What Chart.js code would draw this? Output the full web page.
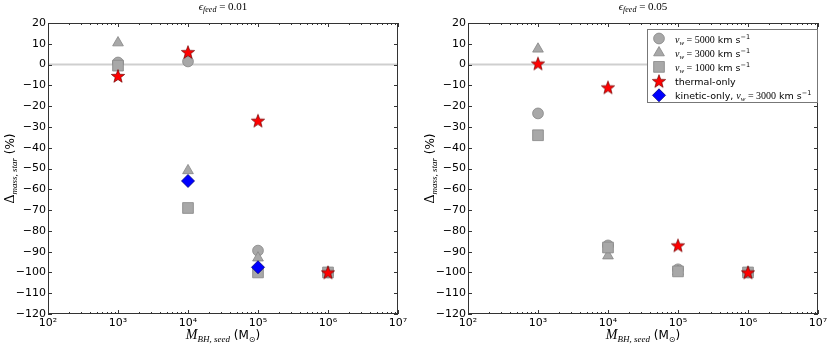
<!DOCTYPE html>
<html>
<head>
<meta charset="utf-8">
<script src="https://cdn.jsdelivr.net/npm/chart.js@4.4.1/dist/chart.umd.min.js"></script>
<style>
body { margin: 0; background: #fff; width: 831px; height: 345px; position: relative; overflow: hidden; }
canvas { position: absolute; top: 0; }
</style>
</head>
<body>
<canvas id="left" width="415" height="345" style="left:0"></canvas>
<canvas id="right" width="411" height="345" style="left:420px"></canvas>
<script>
// seed masses (x) and tick labels
const massSeed = [1e3, 1e4, 1e5, 1e6];
const xTickValues = [1e2, 1e3, 1e4, 1e5, 1e6, 1e7];
const xTickLabels = ['10²', '10³', '10⁴', '10⁵', '10⁶', '10⁷'];
const zeroLine = 0;

// eps_feed = 0.01
const v5000_01 = [1, 1.5, -89.5, -100];
const v3000_01 = [10.5, -51, -93, -100];
const v1000_01 = [-0.5, -69, -100, -100];
const thermal_01 = [-5.5, 6, -27, -100];
const kinetic_01 = [null, -56, -97.5, null];

// eps_feed = 0.05
const v5000_05 = [-23.5, -87, -98.5, -100];
const v3000_05 = [7.5, -92, -99.5, -100];
const v1000_05 = [-34, -88, -99.5, -100];
const thermal_05 = [0.5, -11, -87, -100];
const kinetic_05 = [null, null, null, null];

const GREY = '#a8a8a8';
const GREY_EDGE = '#858585';
const SERIF = '"Liberation Serif","DejaVu Serif",serif';
const SANS = '"DejaVu Sans",sans-serif';

function starImage(r) {
    const c = document.createElement('canvas');
    const s = Math.ceil(r * 2 + 4);
    c.width = s; c.height = s;
    const g = c.getContext('2d');
    g.translate(s / 2, s / 2 + 0.6);
    g.beginPath();
    for (let i = 0; i < 10; i++) {
        const rr = i % 2 === 0 ? r : r * 0.42;
        const a = -Math.PI / 2 + i * Math.PI / 5;
        g.lineTo(rr * Math.cos(a), rr * Math.sin(a));
    }
    g.closePath();
    g.fillStyle = '#ff0000';
    g.fill();
    g.strokeStyle = '#700000';
    g.lineWidth = 0.7;
    g.stroke();
    return c;
}
const star = starImage(7);

function toPoints(vals) {
    const out = [];
    vals.forEach((v, i) => { if (v !== null) out.push({ x: massSeed[i], y: v }); });
    return out;
}

// series styles, in legend order
const styles = [
    { pointStyle: 'circle', radius: 5.4, bg: GREY, border: GREY_EDGE, order: 5 },
    { pointStyle: 'triangle', radius: 6.2, bg: GREY, border: GREY_EDGE, order: 4 },
    { pointStyle: 'rect', radius: 7.6, bg: GREY, border: GREY_EDGE, order: 3 },
    { pointStyle: star, radius: 7, bg: '#ff0000', border: '#700000', order: 2 },
    { pointStyle: 'rectRot', radius: 6.5, bg: '#0000ff', border: '#000080', order: 1 }
];

function richText(ctx, parts, x, y, align) {
    let w = 0;
    parts.forEach(p => { ctx.font = p.f; p.w = ctx.measureText(p.t).width; w += p.w; });
    let cx = align === 'center' ? x - w / 2 : x;
    ctx.textAlign = 'left';
    ctx.textBaseline = 'alphabetic';
    ctx.fillStyle = '#000';
    parts.forEach(p => { ctx.font = p.f; ctx.fillText(p.t, cx, y + (p.dy || 0)); cx += p.w; });
}

function legendLabel(speed) {
    return [
        { t: 'v', f: 'italic 10px ' + SERIF },
        { t: 'w', f: 'italic 7px ' + SERIF, dy: 2 },
        { t: ' = ' + speed, f: '10px ' + SERIF },
        { t: ' km s', f: '9.5px ' + SANS },
        { t: '−1', f: '6.5px ' + SANS, dy: -4 }
    ];
}

const legendRows = [
    legendLabel('5000'),
    legendLabel('3000'),
    legendLabel('1000'),
    [{ t: 'thermal-only', f: '9.5px ' + SANS }],
    [{ t: 'kinetic-only, ', f: '9.5px ' + SANS }].concat(legendLabel('3000'))
];

function makeChart(id, series, eps, showLegend) {
    const datasets = series.map((vals, i) => ({
        type: 'scatter',
        data: toPoints(vals),
        pointStyle: styles[i].pointStyle,
        pointRadius: styles[i].radius,
        pointBackgroundColor: styles[i].bg,
        pointBorderColor: styles[i].border,
        pointBorderWidth: 0.8,
        order: styles[i].order
    }));
    datasets.push({
        type: 'line',
        data: [{ x: xTickValues[0], y: zeroLine }, { x: xTickValues[xTickValues.length - 1], y: zeroLine }],
        borderColor: '#cfcfcf',
        borderWidth: 2,
        pointRadius: 0,
        order: 6
    });

    const decor = {
        id: 'decor',
        afterDraw(chart) {
            const ctx = chart.ctx;
            const a = chart.chartArea;
            const xs = chart.scales.x, ys = chart.scales.y;
            ctx.save();
            // frame
            ctx.strokeStyle = '#333';
            ctx.lineWidth = 1;
            ctx.strokeRect(a.left + 0.5, a.top + 0.5, a.right - a.left - 1, a.bottom - a.top - 1);
            // inward ticks
            ctx.beginPath();
            for (let n = 2; n <= 7; n++) {
                for (let k = 1; k <= 9; k++) {
                    const v = k * Math.pow(10, n);
                    if (v > 1e7) break;
                    const px = Math.round(xs.getPixelForValue(v)) + 0.5;
                    const len = k === 1 ? 4 : 2;
                    ctx.moveTo(px, a.bottom); ctx.lineTo(px, a.bottom - len);
                    ctx.moveTo(px, a.top); ctx.lineTo(px, a.top + len);
                }
            }
            for (let v = -120; v <= 20; v += 10) {
                const py = Math.round(ys.getPixelForValue(v)) + 0.5;
                ctx.moveTo(a.left, py); ctx.lineTo(a.left + 4, py);
                ctx.moveTo(a.right, py); ctx.lineTo(a.right - 4, py);
            }
            ctx.stroke();

            const cx = (a.left + a.right) / 2;
            // title
            richText(ctx, [
                { t: 'ϵ', f: 'italic 11px ' + SERIF },
                { t: 'feed', f: 'italic 8px ' + SERIF, dy: 2 },
                { t: ' = ' + eps, f: '11px ' + SERIF }
            ], cx, 10, 'center');
            // x title
            richText(ctx, [
                { t: 'M', f: 'italic 14px ' + SERIF },
                { t: 'BH, seed', f: 'italic 9px ' + SERIF, dy: 3 },
                { t: ' (M', f: '12px ' + SANS },
                { t: '⊙', f: '8px ' + SANS, dy: 3 },
                { t: ')', f: '12px ' + SANS }
            ], cx, 339, 'center');
            // y title
            ctx.save();
            ctx.translate(14, (a.top + a.bottom) / 2);
            ctx.rotate(-Math.PI / 2);
            richText(ctx, [
                { t: 'Δ', f: '14px ' + SERIF },
                { t: 'mass, star', f: 'italic 9px ' + SERIF, dy: 3 },
                { t: ' (%)', f: '12px ' + SANS }
            ], 0, 0, 'center');
            ctx.restore();

            if (showLegend) {
                const bx = a.right - 171, by = a.top + 6, bw = 170, bh = 73;
                ctx.fillStyle = '#fff';
                ctx.fillRect(bx, by, bw, bh);
                ctx.strokeStyle = '#777';
                ctx.lineWidth = 1;
                ctx.strokeRect(bx + 0.5, by + 0.5, bw, bh);
                styles.forEach((s, i) => {
                    const ry = by + 9.5 + i * 14.2;
                    ctx.fillStyle = s.bg;
                    ctx.strokeStyle = s.border;
                    ctx.lineWidth = 0.8;
                    Chart.helpers.drawPoint(ctx, { pointStyle: s.pointStyle, radius: s.radius, rotation: 0, borderWidth: 0.8 }, bx + 12, ry);
                    richText(ctx, legendRows[i], bx + 28, ry + 4, 'left');
                });
            }
            ctx.restore();
        }
    };

    return new Chart(document.getElementById(id), {
        data: { datasets: datasets },
        options: {
            responsive: false,
            animation: false,
            layout: { padding: { top: 23, right: id === 'left' ? 17 : 13, left: 0, bottom: 0 } },
            plugins: { legend: { display: false }, tooltip: { enabled: false } },
            scales: {
                x: {
                    type: 'logarithmic',
                    min: xTickValues[0],
                    max: xTickValues[xTickValues.length - 1],
                    afterBuildTicks: s => { s.ticks = xTickValues.map(v => ({ value: v, major: true })); },
                    afterFit: s => { s.height = 31; },
                    grid: { display: false, drawTicks: false },
                    border: { display: false },
                    ticks: {
                        autoSkip: false,
                        maxRotation: 0,
                        padding: 3,
                        color: '#000',
                        font: { family: 'DejaVu Sans', size: 11 },
                        callback: (v, i) => xTickLabels[i]
                    }
                },
                y: {
                    type: 'linear',
                    min: -120,
                    max: 20,
                    afterFit: s => { s.width = 48; },
                    grid: { display: false, drawTicks: false },
                    border: { display: false },
                    ticks: {
                        stepSize: 10,
                        autoSkip: false,
                        padding: 2,
                        color: '#000',
                        font: { family: 'DejaVu Sans', size: 11 },
                        callback: v => String(v).replace('-', '\u2212')
                    }
                }
            }
        },
        plugins: [decor]
    });
}

makeChart('left', [v5000_01, v3000_01, v1000_01, thermal_01, kinetic_01], '0.01', false);
makeChart('right', [v5000_05, v3000_05, v1000_05, thermal_05, kinetic_05], '0.05', true);
</script>
</body>
</html>
